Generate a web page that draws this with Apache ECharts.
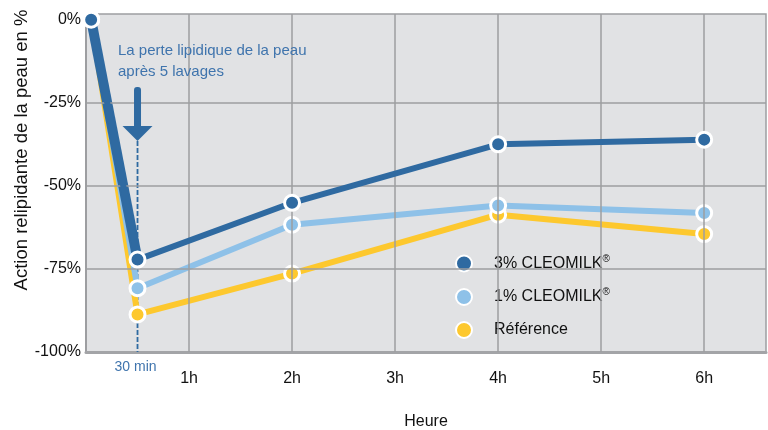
<!DOCTYPE html>
<html>
<head>
<meta charset="utf-8">
<script src="https://cdn.jsdelivr.net/npm/echarts@6/dist/echarts.min.js"></script>
<style>
  html, body { margin: 0; padding: 0; background: #fff; }
  #chart { width: 768px; height: 430px; }
</style>
</head>
<body>
<div id="chart"></div>
<script>
// heures de mesure (le premier point est le départ, 30 min = 0.5)
var hours = [0.05, 0.5, 2, 4, 6];
var cleo3 = [0, -72.2, -55.1, -37.5, -36.1];
var cleo1 = [0, -80.8, -61.7, -55.9, -58.2];
var reference = [0, -88.7, -76.4, -58.7, -64.5];
var seriesNames = ['3% CLEOMILK', '1% CLEOMILK', 'Référence'];
var hourTicks = [1, 2, 3, 4, 5, 6];
var yTicks = [0, -25, -50, -75, -100];
var yGridLines = [-25, -50, -75];
var noteLines = ['La perte lipidique de la peau', 'après 5 lavages'];
var noteTime = 0.5;
var noteTimeLabel = '30 min';

var FONT = '"Liberation Sans", Arial, sans-serif';
var DARK = '#2f6aa1';
var LIGHT = '#8ec1e8';
var YELLOW = '#fdc82e';
var NOTE = '#3f74ad';
var BG = '#e1e2e4';
var GRIDLINE = '#9d9ea1';

function pairs(vals) {
    return hours.map(function (h, i) { return [h, vals[i]]; });
}

function lineSeries(name, vals, color, z) {
    return {
        name: name,
        type: 'line',
        data: pairs(vals),
        z: z,
        symbol: 'circle',
        symbolSize: 15,
        lineStyle: { color: color, width: 6 },
        itemStyle: { color: color, borderColor: '#fff', borderWidth: 3 },
        emphasis: { disabled: true },
        animation: false
    };
}

var myChart = echarts.init(document.getElementById('chart'));

// lignes de la grille (sans ligne à 0%)
var gridMarks = yGridLines.map(function (v) { return { yAxis: v }; })
    .concat(hourTicks.map(function (h) { return { xAxis: h }; }));

var option = {
    animation: false,
    textStyle: { fontFamily: FONT },
    grid: {
        left: 86, top: 14, right: 2, bottom: 78,
        outerBoundsMode: 'none',
        containLabel: false,
        show: true, backgroundColor: BG, borderColor: GRIDLINE, borderWidth: 1.5
    },
    xAxis: {
        type: 'value',
        min: 0, max: 6.6, interval: 1,
        name: 'Heure',
        nameLocation: 'middle',
        nameGap: 62,
        nameMoveOverlap: false,
        nameTextStyle: { fontSize: 16, color: '#111', fontFamily: FONT },
        axisLine: { show: true, onZero: false, lineStyle: { color: '#a3a4a7', width: 3 } },
        axisTick: { show: false },
        axisLabel: {
            margin: 19, fontSize: 16, color: '#111', fontFamily: FONT,
            formatter: function (v) { return hourTicks.indexOf(v) >= 0 ? v + 'h' : ''; }
        },
        splitLine: { show: false }
    },
    yAxis: {
        type: 'value',
        min: -100, max: 1.7, interval: 25,
        name: 'Action relipidante de la peau en %',
        nameLocation: 'middle',
        nameGap: 55,
        nameMoveOverlap: false,
        nameTextStyle: { fontSize: 18.5, color: '#111', fontFamily: FONT, padding: [0, 0, 0, 66] },
        axisLine: { show: true, onZero: false, lineStyle: { color: GRIDLINE, width: 2 } },
        axisTick: { show: false },
        axisLabel: {
            margin: 5, fontSize: 16, color: '#111', fontFamily: FONT,
            formatter: function (v) { return yTicks.indexOf(v) >= 0 ? v + '%' : ''; }
        },
        splitLine: { show: false }
    },
    legend: {
        data: seriesNames,
        orient: 'vertical',
        left: 447, top: 246,
        itemGap: 15,
        itemWidth: 16, itemHeight: 16,
        icon: 'circle',
        backgroundColor: BG,
        padding: [8, 40, 8, 8],
        formatter: function (name) {
            return name.indexOf('CLEOMILK') >= 0 ? '{t|' + name + '}{s|®}' : '{t|' + name + '}';
        },
        textStyle: {
            fontFamily: FONT,
            rich: {
                t: { fontSize: 16, color: '#111', padding: [0, 0, 0, 17], fontFamily: FONT },
                s: { fontSize: 10, color: '#111', padding: [0, 0, 9, 0], fontFamily: FONT }
            }
        }
    },
    series: [
        {
            name: 'grille',
            type: 'line',
            data: [],
            z: 0,
            silent: true,
            markLine: {
                silent: true,
                symbol: 'none',
                label: { show: false },
                lineStyle: { color: GRIDLINE, width: 1.5, type: 'solid' },
                data: gridMarks,
                animation: false
            }
        },
        lineSeries(seriesNames[2], reference, YELLOW, 2),
        lineSeries(seriesNames[1], cleo1, LIGHT, 3),
        {
            // premier segment plus épais pour 3% CLEOMILK
            name: 'head',
            type: 'line',
            data: pairs(cleo3).slice(0, 2),
            z: 4,
            symbol: 'none',
            lineStyle: { color: DARK, width: 10 },
            emphasis: { disabled: true },
            animation: false
        },
        lineSeries(seriesNames[0], cleo3, DARK, 5)
    ]
};
myChart.setOption(option);

// annotation : texte, flèche et ligne pointillée à 30 min
var px = myChart.convertToPixel({ gridIndex: 0 }, [noteTime, -100]);
var ax = px[0], axisY = px[1];
var tipY = 141;
myChart.setOption({
    graphic: [
        {
            type: 'text', left: 118, top: 40, z: 20,
            style: { text: noteLines.join('\n'), fill: NOTE, font: '15px ' + FONT, lineHeight: 21 }
        },
        {
            type: 'rect', z: 20,
            shape: { x: ax - 3.5, y: 87, width: 7, height: tipY - 87 - 12, r: 3 },
            style: { fill: DARK }
        },
        {
            type: 'polygon', z: 20,
            shape: { points: [[ax - 15, tipY - 15], [ax + 15, tipY - 15], [ax, tipY]] },
            style: { fill: DARK }
        },
        {
            type: 'line', z: 1,
            shape: { x1: ax, y1: tipY, x2: ax, y2: axisY },
            style: { stroke: DARK, lineWidth: 1.8, lineDash: [5, 2] }
        },
        {
            type: 'text', z: 20,
            x: ax - 2, y: axisY + 15,
            style: { text: noteTimeLabel, fill: NOTE, font: '14px ' + FONT, align: 'center', verticalAlign: 'middle' }
        }
    ]
});
</script>
</body>
</html>
